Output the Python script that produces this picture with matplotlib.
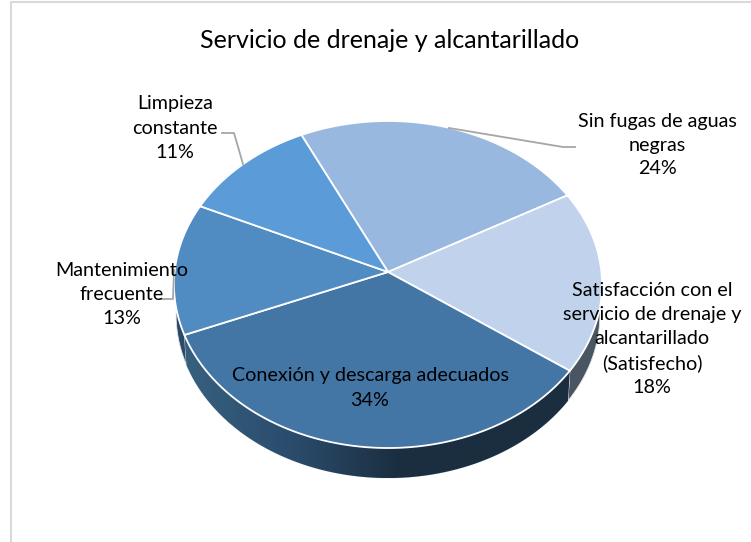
#
# Pie chart with a 3D look: Servicio de drenaje y alcantarillado
#
import numpy as np
import matplotlib
matplotlib.use('Agg')
import matplotlib.pyplot as plt
from matplotlib.colors import LinearSegmentedColormap

plt.rcParams['font.family'] = ['Lato', 'DejaVu Sans']

title = 'Servicio de drenaje y alcantarillado'
categories = ['Sin fugas de aguas\nnegras',
              'Satisfacción con el\nservicio de drenaje y\nalcantarillado\n(Satisfecho)',
              'Conexión y descarga adecuados',
              'Mantenimiento\nfrecuente',
              'Limpieza\nconstante']
values = [24, 18, 34, 13, 11]
face_colors = ['#98B8E0', '#C0D2EC', '#4375A5', '#508BC1', '#5B9BD7']
side_colors = ['#5a6a80', '#4a5563', '#1b2e40', '#2a4a68', '#2a4a68']

# Pie geometry in image pixels
cx, cy = 388.0, 284.5
k, a, b, c = 213.4, 163.5, 12.5, 0.0765
start_angle = -25.7
depth = 30.0


def project(theta, r=1.0):
    # Perspective view of a flat circle, the apex sits above the ellipse centre
    th = np.radians(theta)
    X, Y = r * np.sin(th), r * np.cos(th)
    w = 1 + c * Y
    return cx + k * X / w, cy - (a * Y + b) / w


fig = plt.figure(figsize=(7.51, 5.42), dpi=100)
ax = fig.add_axes([0, 0, 1, 1])
ax.set_xlim(0, 751)
ax.set_ylim(542, 0)
ax.axis('off')

# Chart frame
ax.plot([11, 11, 751], [542, 1.5, 1.5], color='#d9d9d9', lw=1.5)

edges = start_angle + 3.6 * np.cumsum([0] + values)

# Side wall
wall_cmap = LinearSegmentedColormap.from_list('wall', ['#37607f', '#2b4c6c', '#1b2e40'])
for i in range(len(values)):
    th = np.linspace(edges[i], edges[i + 1], 200)
    x, y = project(th)
    x2 = cx + (x - cx) * 0.99
    y2 = y + depth
    px = np.r_[x, x2[::-1]]
    py = np.r_[y, y2[::-1]]
    poly = ax.fill(px, py, color=side_colors[i], ec='#dfe5ec', lw=0.6, zorder=2)[0]
    if i == 2:
        # The big slice fades from lighter on the left to dark at the front
        grad = np.clip((np.linspace(px.min(), px.max(), 256) - px.min()) / 215, 0, 1)[None, :]
        im = ax.imshow(grad, cmap=wall_cmap, aspect='auto', zorder=2.1,
                       extent=[px.min(), px.max(), py.max(), py.min()])
        im.set_clip_path(poly)
ax.set_xlim(0, 751)
ax.set_ylim(542, 0)

# Top face
for i in range(len(values)):
    th = np.linspace(edges[i], edges[i + 1], 200)
    x, y = project(th)
    ax_x = np.r_[project(0, 0)[0], x]
    ax_y = np.r_[project(0, 0)[1], y]
    ax.fill(ax_x, ax_y, color=face_colors[i], ec='white', lw=1.3, joinstyle='round', zorder=3)

# Leader lines
leader = dict(color='#a6a6a6', lw=1.3, zorder=4)
ax.plot([449, 563, 575], [128, 147, 147], **leader)
ax.plot([222, 234, 243], [133, 133, 164], **leader)
ax.plot([160, 173, 174], [299, 299, 270], **leader)

# Labels
ax.text(390, 40, title, fontsize=18, ha='center', va='center', color='black', zorder=5)
label_pos = [(657, 145), (652, 339), (370, 388), (122, 295), (175, 128)]
for name, v, (lx, ly) in zip(categories, values, label_pos):
    ax.text(lx, ly, '{:s}\n{:d}%'.format(name, v), fontsize=14.2, ha='center', va='center',
            linespacing=1.5, color='black', zorder=5)

fig.savefig('out.png', dpi=100)
